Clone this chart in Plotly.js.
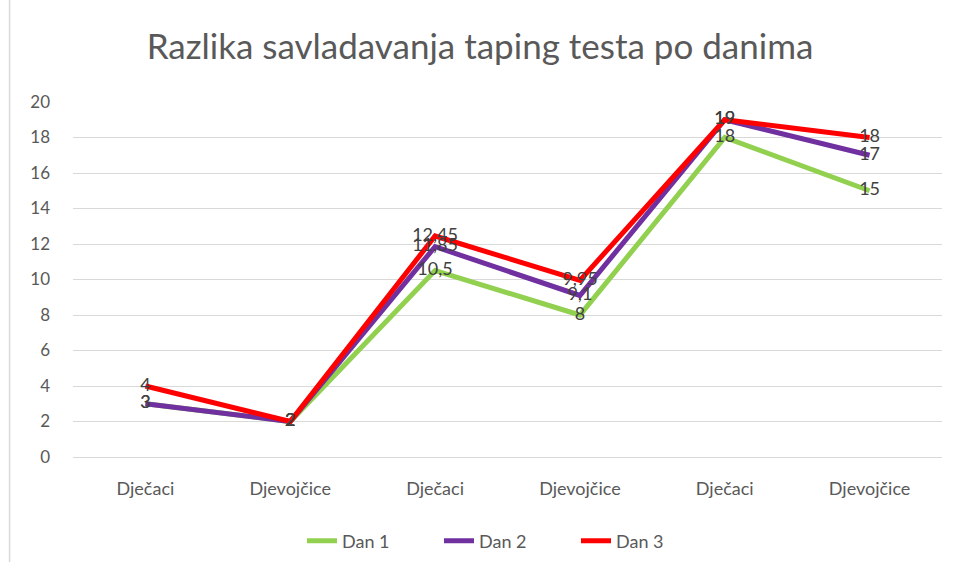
<!DOCTYPE html>
<html>
<head>
<meta charset="utf-8">
<script src="https://cdn.plot.ly/plotly-3.0.1.min.js"></script>
<style>html,body{margin:0;padding:0;background:#fff;}#chart{width:960px;height:562px;}</style>
</head>
<body>
<div id="chart"></div>
<script>
const categories = ["Dječaci", "Djevojčice", "Dječaci", "Djevojčice", "Dječaci", "Djevojčice"];
const seriesNames = ["Dan 1", "Dan 2", "Dan 3"];
const dan1 = [3, 2, 10.5, 8, 18, 15];
const dan2 = [3, 2, 11.85, 9.1, 19, 17];
const dan3 = [4, 2, 12.45, 9.95, 19, 18];
const colors = ["#92D050", "#7030A0", "#FF0000"];

const FONT = "Lato, 'Open Sans', sans-serif";
const xIdx = categories.map((_, i) => i);
const fmt = v => String(v).replace(".", ",");
const allSeries = [dan1, dan2, dan3];

const lineTraces = allSeries.map((vals, s) => ({
  x: xIdx, y: vals, name: seriesNames[s], type: "scatter", mode: "lines",
  line: {color: colors[s], width: 5}, hoverinfo: "skip"
}));
const textTraces = allSeries.map((vals, s) => ({
  x: xIdx, y: vals, type: "scatter", mode: "text", showlegend: false,
  text: vals.map(fmt), textposition: "middle center",
  textfont: {family: FONT, size: 18, color: "#404040"}, hoverinfo: "skip"
}));

const layout = {
  width: 960, height: 562,
  margin: {l: 73, r: 18, t: 102, b: 105, autoexpand: false},
  paper_bgcolor: "#fff", plot_bgcolor: "#fff",
  title: {text: "Razlika savladavanja taping testa po danima", x: 0.5, xanchor: "center", y: 0.917, yanchor: "middle",
    font: {family: FONT, size: 35, color: "#595959"}},
  xaxis: {range: [-0.5, 5.5], tickmode: "array", tickvals: xIdx, ticktext: categories,
    showgrid: false, zeroline: false, showline: false, ticks: "", automargin: false,
    tickfont: {family: FONT, size: 18, color: "#595959"}, ticklabelstandoff: 19, fixedrange: true},
  yaxis: {range: [0, 20], dtick: 2, showgrid: true, gridcolor: "#d9d9d9", gridwidth: 1,
    zeroline: true, zerolinecolor: "#d9d9d9", zerolinewidth: 1, showline: false, ticks: "", automargin: false,
    tickfont: {family: FONT, size: 17, color: "#595959"}, ticklabelstandoff: 22, fixedrange: true},
  legend: {orientation: "h", x: 0.5, xanchor: "center", y: -0.237, yanchor: "middle",
    entrywidth: 92, entrywidthmode: "pixels",
    font: {family: FONT, size: 18, color: "#595959"}},
  shapes: [{type: "line", xref: "paper", yref: "paper", x0: -0.073, x1: -0.073, y0: -0.3, y1: 1.3,
    line: {color: "#d9d9d9", width: 1.5}}],
  showlegend: true
};

Plotly.newPlot("chart", lineTraces.concat(textTraces), layout, {displayModeBar: false, staticPlot: true});
</script>
</body>
</html>
